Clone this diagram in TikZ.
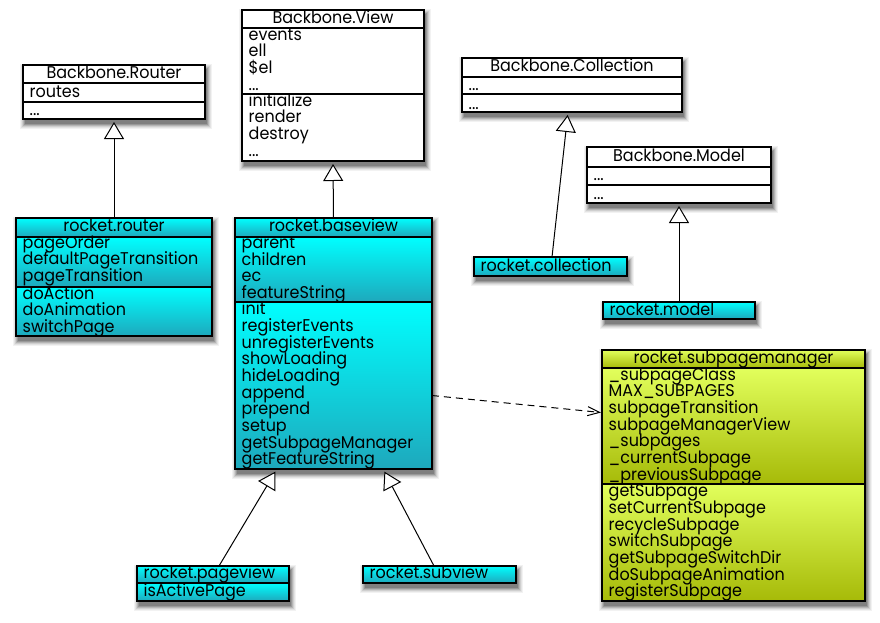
\documentclass[tikz,border=0pt]{standalone}
\usepackage{fontspec}
\setmainfont{Poppins}[FakeStretch=0.94]
\usetikzlibrary{arrows.meta,calc}

\definecolor{cyanTop}{RGB}{0,255,255}
\definecolor{cyanBot}{RGB}{30,168,188}
\definecolor{limeTop}{RGB}{226,255,92}
\definecolor{limeBot}{RGB}{166,186,8}
\definecolor{shadowA}{gray}{0.95}
\definecolor{shadowB}{gray}{0.89}
\definecolor{shadowC}{gray}{0.81}
\definecolor{shadowD}{gray}{0.71}
\definecolor{shadowE}{gray}{0.60}
\definecolor{shadowF}{gray}{0.50}

\newcommand{\umlfont}{\fontsize{17}{16.67}\selectfont}

\tikzset{
  classbox/.style={inner sep=0pt, outer sep=0pt, anchor=north west},
  frame/.style={draw=black, line width=1.2pt},
  sepline/.style={draw=black, line width=1.1pt},
  cyanband/.style={top color=cyanTop, bottom color=cyanBot},
  limeband/.style={top color=limeTop, bottom color=limeBot},
  title/.style={anchor=base, inner sep=0pt, font=\umlfont},
  member/.style={anchor=base west, inner sep=0pt, font=\umlfont},
  inherit/.style={line width=1pt, shorten >=3pt,
    -{Triangle[length=17pt, width=20pt, fill=white]}},
  depends/.style={line width=1pt, dash pattern=on 7pt off 5pt,
    -{Straight Barb[length=12pt, width=9pt]}},
}

% soft drop shadow (graded grey layers, outermost first) and white body of a class
\newcommand{\castshadow}[1]{%
  \fill[shadowA] ([shift={(-3pt,1pt)}]#1.north west) rectangle ([shift={(7pt,-10pt)}]#1.south east);
  \fill[shadowB] ([shift={(-2pt,0pt)}]#1.north west) rectangle ([shift={(6pt,-9pt)}]#1.south east);
  \fill[shadowC] ([shift={(-1pt,-1pt)}]#1.north west) rectangle ([shift={(5pt,-8pt)}]#1.south east);
  \fill[shadowD] ([shift={(0pt,-2pt)}]#1.north west) rectangle ([shift={(4pt,-7pt)}]#1.south east);
  \fill[shadowE] ([shift={(1pt,-3pt)}]#1.north west) rectangle ([shift={(3pt,-6pt)}]#1.south east);
  \fill[shadowF] ([shift={(2pt,-4pt)}]#1.north west) rectangle ([shift={(2pt,-5pt)}]#1.south east);
  \fill[white] (#1.north west) rectangle (#1.south east);}
% shaded compartment between two offsets below the top edge of a class
\newcommand{\band}[4]{%
  \shade[#4] ($(#1.north west)+(0,#2)$) rectangle ($(#1.north east)+(0,#3)$);}
% horizontal separator at an offset below the top edge of a class
\newcommand{\sepat}[2]{%
  \draw[sepline] ($(#1.north west)+(0,#2)$) -- ($(#1.north east)+(0,#2)$);}
% list of members, first baseline at the given offset below the top edge
\newcommand{\members}[3]{%
  \foreach \m [count=\k] in {#3}
    \node[member] (#1-l#2-\k) at ($(#1.north west)+(6.5,{#2+0.8+16.67*(\k-1)})$) {\m};}
% class name centred in the header
\newcommand{\classname}[3]{%
  \node[title] (#1-name) at ($(#1.north)+(0,#2)$) {#3};}
\newcommand{\outline}[1]{\draw[frame] (#1.north west) rectangle (#1.south east);}
% three dots, kept in braces so that \foreach does not read a range
\newcommand{\etc}{{.\kern0pt.\kern0pt.}}

\begin{document}
\begin{tikzpicture}[x=1pt, y=-1pt]
\useasboundingbox (0,0) rectangle (880,622);

% ---------------- Backbone.Router
\node[classbox, minimum width=182pt, minimum height=54pt] (brouter) at (23,65) {};
\castshadow{brouter}
\sepat{brouter}{18}\sepat{brouter}{37}\outline{brouter}
\classname{brouter}{13.3}{Backbone.Router}
\members{brouter}{31.5}{routes}
\members{brouter}{50}{\etc}

% ---------------- rocket.router
\node[classbox, minimum width=196pt, minimum height=118pt] (router) at (16,218) {};
\castshadow{router}
\band{router}{0}{19}{cyanband}\band{router}{19}{69}{cyanband}\band{router}{69}{118}{cyanband}
\sepat{router}{19}\sepat{router}{69}\outline{router}
\classname{router}{13.5}{rocket.router}
\members{router}{29.5}{pageOrder,defaultPageTransition,pageTransition}
\members{router}{80.5}{doAction,doAnimation,switchPage}

% ---------------- Backbone.View
\node[classbox, minimum width=182pt, minimum height=151pt] (bview) at (242,10) {};
\castshadow{bview}
\sepat{bview}{18}\sepat{bview}{84}\outline{bview}
\classname{bview}{13.3}{Backbone.View}
\members{bview}{29.3}{events,ell,\$el,\etc}
\members{bview}{95.5}{initialize,render,destroy,\etc}

% ---------------- rocket.baseview
\node[classbox, minimum width=197pt, minimum height=251pt] (baseview) at (235,218) {};
\castshadow{baseview}
\band{baseview}{0}{19}{cyanband}\band{baseview}{19}{84}{cyanband}\band{baseview}{84}{251}{cyanband}
\sepat{baseview}{19}\sepat{baseview}{84}\outline{baseview}
\classname{baseview}{13.7}{rocket.baseview}
\members{baseview}{29.8}{parent,children,ec,featureString}
\members{baseview}{96}{init,registerEvents,unregisterEvents,showLoading,hideLoading,append,prepend,setup,getSubpageManager,getFeatureString}

% ---------------- Backbone.Collection
\node[classbox, minimum width=220pt, minimum height=54pt] (bcoll) at (462,58) {};
\castshadow{bcoll}
\sepat{bcoll}{19}\sepat{bcoll}{36}\outline{bcoll}
\classname{bcoll}{13.7}{Backbone.Collection}
\members{bcoll}{31.3}{\etc}
\members{bcoll}{50.3}{\etc}

% ---------------- rocket.collection
\node[classbox, minimum width=153pt, minimum height=19pt] (coll) at (474,257) {};
\castshadow{coll}
\band{coll}{0}{19}{cyanband}\outline{coll}
\members{coll}{13.7}{rocket.collection}

% ---------------- Backbone.Model
\node[classbox, minimum width=184pt, minimum height=56pt] (bmodel) at (587,147) {};
\castshadow{bmodel}
\sepat{bmodel}{20}\sepat{bmodel}{38}\outline{bmodel}
\classname{bmodel}{14.7}{Backbone.Model}
\members{bmodel}{33}{\etc}
\members{bmodel}{51.3}{\etc}

% ---------------- rocket.model
\node[classbox, minimum width=152pt, minimum height=17pt] (model) at (603,302) {};
\castshadow{model}
\band{model}{0}{17}{cyanband}\outline{model}
\members{model}{12.5}{rocket.model}

% ---------------- rocket.subpagemanager
\node[classbox, minimum width=263pt, minimum height=251pt] (spm) at (602,350) {};
\castshadow{spm}
\band{spm}{0}{18}{limeband}\band{spm}{18}{134}{limeband}\band{spm}{134}{251}{limeband}
\sepat{spm}{18}\sepat{spm}{134}\outline{spm}
\classname{spm}{13.3}{rocket.subpagemanager}
\members{spm}{29.3}{\_subpageClass,MAX\_SUBPAGES,subpageTransition,subpageManagerView,\_subpages,\_currentSubpage,\_previousSubpage}
\members{spm}{146}{getSubpage,setCurrentSubpage,recycleSubpage,switchSubpage,getSubpageSwitchDir,doSubpageAnimation,registerSubpage}

% ---------------- rocket.pageview
\node[classbox, minimum width=152pt, minimum height=35pt] (pageview) at (137,566) {};
\castshadow{pageview}
\band{pageview}{0}{17}{cyanband}\band{pageview}{17}{35}{cyanband}
\sepat{pageview}{17}\outline{pageview}
\members{pageview}{12}{rocket.pageview}
\members{pageview}{29.2}{isActivePage}

% ---------------- rocket.subview
\node[classbox, minimum width=153pt, minimum height=17pt] (subview) at (363,566) {};
\castshadow{subview}
\band{subview}{0}{17}{cyanband}\outline{subview}
\members{subview}{12}{rocket.subview}

% ---------------- generalisations
\draw[inherit] (router.north) -- (brouter.south);
\draw[inherit] (baseview.north) -- (bview.south);
\draw[inherit] ($(coll.north)+(1.5,0)$) -- ($(bcoll.south)+(-4,0)$);
\draw[inherit] (model.north) -- (bmodel.south);
\draw[inherit] ($(pageview.north)+(6,0)$) -- ($(baseview.south west)+(42,0)$);
\draw[inherit] ($(subview.north)+(-5.5,0)$) -- ($(baseview.south west)+(148,0)$);

% ---------------- dependency
\draw[depends] ($(baseview.east)+(0,52)$) -- ($(spm.west)+(-1,-63)$);
\end{tikzpicture}
\end{document}
